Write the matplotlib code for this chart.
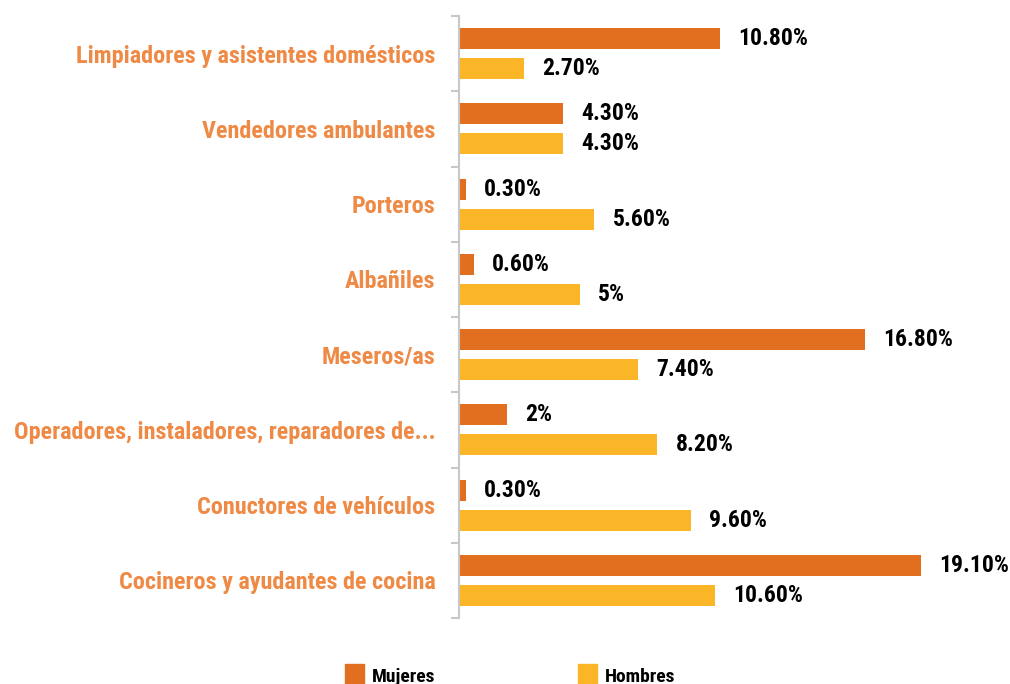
import numpy as np
import matplotlib
matplotlib.use("Agg")
from matplotlib import pyplot as plt
from matplotlib.patches import Rectangle
from matplotlib import font_manager

installed = set(f.name for f in font_manager.fontManager.ttflist)
fuente = "DejaVu Sans"
for nombre in ["Liberation Sans Narrow", "Roboto Condensed", "Open Sans Condensed", "Lato", "Roboto"]:
    if nombre in installed:
        fuente = nombre
        break
plt.rcParams['font.family'] = [fuente, 'DejaVu Sans']

categorias = ["Limpiadores y asistentes domésticos", "Vendedores ambulantes", "Porteros",
              "Albañiles", "Meseros/as", "Operadores, instaladores, reparadores de...",
              "Conuctores de vehículos", "Cocineros y ayudantes de cocina"]
mujeres = [10.8, 4.3, 0.3, 0.6, 16.8, 2.0, 0.3, 19.1]
hombres = [2.7, 4.3, 5.6, 5.0, 7.4, 8.2, 9.6, 10.6]

c_muj = "#E26F1F"
c_hom = "#FBB627"
c_lab = "#EE8A45"

def fmt(v):
    if v == int(v):
        return "%d%%" % v
    return "%.2f%%" % v

fig = plt.figure(figsize=(10.10, 6.84), dpi=100)
ax = fig.add_axes([459/1010, 1 - 618/684, 541/1010, 602/684])

y = np.arange(len(categorias))
b1 = ax.barh(y - 0.2, mujeres, height=0.28, color=c_muj)
b2 = ax.barh(y + 0.2, hombres, height=0.28, color=c_hom)
ax.bar_label(b1, labels=[fmt(v) for v in mujeres], padding=13, fontsize=17, fontweight="bold")
ax.bar_label(b2, labels=[fmt(v) for v in hombres], padding=13, fontsize=17, fontweight="bold")

ax.set_xlim(0, 22.36)
ax.set_ylim(len(categorias) - 0.5, -0.5)
ax.set_xticks([])
ax.set_yticks(np.arange(len(categorias) + 1) - 0.5)
ax.set_yticklabels([])
ax.set_yticks(y, minor=True)
ax.set_yticklabels(categorias, minor=True, color=c_lab, fontsize=17.4, fontweight="bold")
ax.tick_params(axis="y", which="major", length=6, color="#C8C8C8", width=1.5)
ax.tick_params(axis="y", which="minor", length=0, pad=17)
for s in ["top", "right", "bottom"]:
    ax.spines[s].set_visible(False)
ax.spines["left"].set_color("#C8C8C8")
ax.spines["left"].set_linewidth(1.5)

# leyenda manual abajo
W, H = 1010.0, 684.0
for x0, col, txt in [(345, c_muj, "Mujeres"), (578, c_hom, "Hombres")]:
    fig.add_artist(Rectangle((x0 / W, 1 - 686 / H), 19 / W, 22 / H, color=col,
                             transform=fig.transFigure))
    fig.text((x0 + 27) / W, 1 - 677 / H, txt, fontsize=14, fontweight="bold", va="center")

fig.savefig("out.png", dpi=100)
